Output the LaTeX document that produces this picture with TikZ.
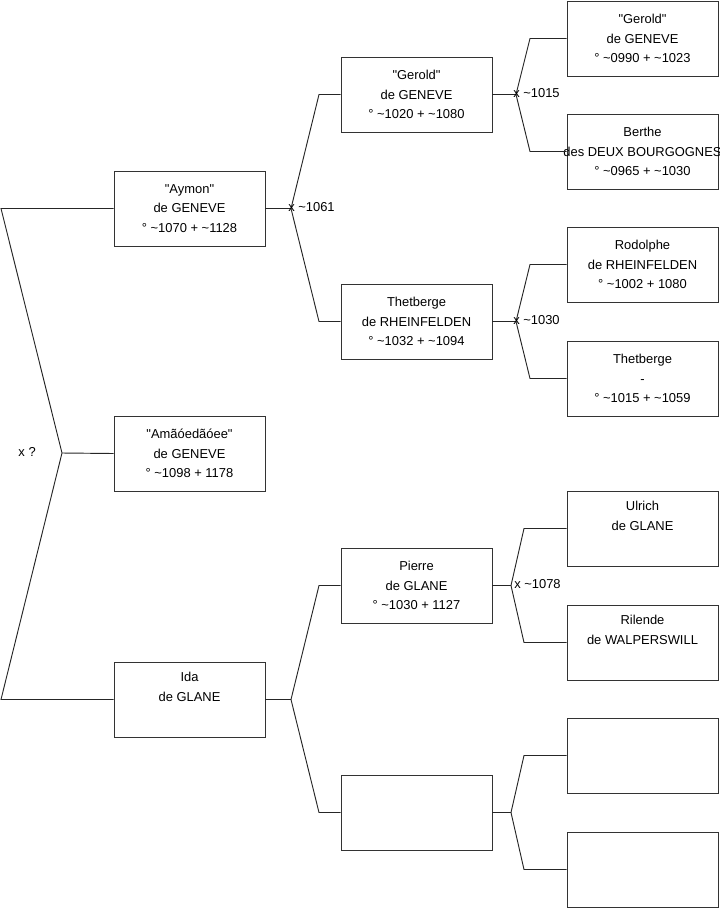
\documentclass[tikz,border=0pt]{standalone}
\usepackage{fontspec}
\setmainfont{Liberation Sans}
\usepackage{tikz}
\usetikzlibrary{positioning}

\newcommand{\tld}{\textasciitilde}
\newcommand{\qt}{\textquotedbl}

\begin{document}
\begin{tikzpicture}[x=0.75pt, y=-0.75pt,
  person/.style={draw=black!80, rectangle, minimum width=113.25pt, minimum height=56.25pt,
    align=center, inner sep=0pt, font=\fontsize{9.7}{14.8}\selectfont},
  link/.style={draw=black!85, line width=0.7pt},
  wed/.style={anchor=west, inner sep=0pt, font=\fontsize{9.7}{11}\selectfont}]
  \useasboundingbox (0,0) rectangle (719,908);

  % first generation
  \node (aymon) [person] at (189.5,208.5) {\qt Aymon\qt\\ de GENEVE\\ ° \tld1070 + \tld1128};
  \node (ama) [person] at (189.5,453.5) {\qt Amãóedãóee\qt\\ de GENEVE\\ ° \tld1098 + 1178};
  \node (ida) [person] at (189.5,699.5) {Ida\\ de GLANE\\ \strut};

  % parents
  \node (gerold) [person] at (416.5,94.5) {\qt Gerold\qt\\ de GENEVE\\ ° \tld1020 + \tld1080};
  \node (thet) [person] at (416.5,321.5) {Thetberge\\ de RHEINFELDEN\\ ° \tld1032 + \tld1094};
  \node (pierre) [person] at (416.5,585.5) {Pierre\\ de GLANE\\ ° \tld1030 + 1127};
  \node (idamother) [person] at (416.5,812.5) {};

  % grandparents
  \node (geroldf) [person] at (642.5,38.5) {\qt Gerold\qt\\ de GENEVE\\ ° \tld0990 + \tld1023};
  \node (berthe) [person] at (642.5,151.5) {Berthe\\ \makebox[0pt]{des DEUX BOURGOGNES}\\ ° \tld0965 + \tld1030};
  \node (rodolphe) [person] at (642.5,264.5) {Rodolphe\\ de RHEINFELDEN\\ ° \tld1002 + 1080};
  \node (thetm) [person] at (642.5,378.5) {Thetberge\\ -\\ ° \tld1015 + \tld1059};
  \node (ulrich) [person] at (642.5,528.5) {Ulrich\\ de GLANE\\ \strut};
  \node (rilende) [person] at (642.5,642.5) {Rilende\\ de WALPERSWILL\\ \strut};
  \node (gp7) [person] at (642.5,755.5) {};
  \node (gp8) [person] at (642.5,869.5) {};

  % junctions and bends
  \coordinate (jroot) at (62,453);
  \coordinate (rtop) at (1,208.5);
  \coordinate (rbot) at (1,699.5);
  \coordinate (jaymon) at (291,208.5);
  \coordinate (aup) at (319,94.5);
  \coordinate (adown) at (319,321.5);
  \coordinate (jida) at (291,699.5);
  \coordinate (iup) at (319,585.5);
  \coordinate (idown) at (319,812.5);
  \coordinate (jgerold) at (516,94.5);
  \coordinate (gup) at (530,38.5);
  \coordinate (gdown) at (530,151.5);
  \coordinate (jthet) at (516,321.5);
  \coordinate (tup) at (530,264.5);
  \coordinate (tdown) at (530,378.5);
  \coordinate (jpierre) at (511,585.5);
  \coordinate (pup) at (524,528.5);
  \coordinate (pdown) at (524,642.5);
  \coordinate (jidam) at (511,812.5);
  \coordinate (mup) at (524,755.5);
  \coordinate (mdown) at (524,869.5);

  % connectors
  \draw [link] (aymon.west) -- (rtop) -- (jroot) -- (rbot) -- (ida.west);
  \draw [link] (jroot) -- (ama.west);
  \draw [link] (aymon.east) -- (jaymon);
  \draw [link] (gerold.west) -- (aup) -- (jaymon) -- (adown) -- (thet.west);
  \draw [link] (ida.east) -- (jida);
  \draw [link] (pierre.west) -- (iup) -- (jida) -- (idown) -- (idamother.west);
  \draw [link] (gerold.east) -- (jgerold);
  \draw [link] (geroldf.west) -- (gup) -- (jgerold) -- (gdown) -- (berthe.west);
  \draw [link] (thet.east) -- (jthet);
  \draw [link] (rodolphe.west) -- (tup) -- (jthet) -- (tdown) -- (thetm.west);
  \draw [link] (pierre.east) -- (jpierre);
  \draw [link] (ulrich.west) -- (pup) -- (jpierre) -- (pdown) -- (rilende.west);
  \draw [link] (idamother.east) -- (jidam);
  \draw [link] (gp7.west) -- (mup) -- (jidam) -- (mdown) -- (gp8.west);

  % marriages
  \node (wroot) [anchor=east, inner sep=0pt, font=\fontsize{9.7}{11}\selectfont] at (36,452) {x ?};
  \node (waymon) [wed] at (288,207.5) {x \tld1061};
  \node (wgerold) [wed] at (513,93.5) {x \tld1015};
  \node (wthet) [wed] at (513,320.5) {x \tld1030};
  \node (wpierre) [wed] at (514,584.5) {x \tld1078};
\end{tikzpicture}
\end{document}
